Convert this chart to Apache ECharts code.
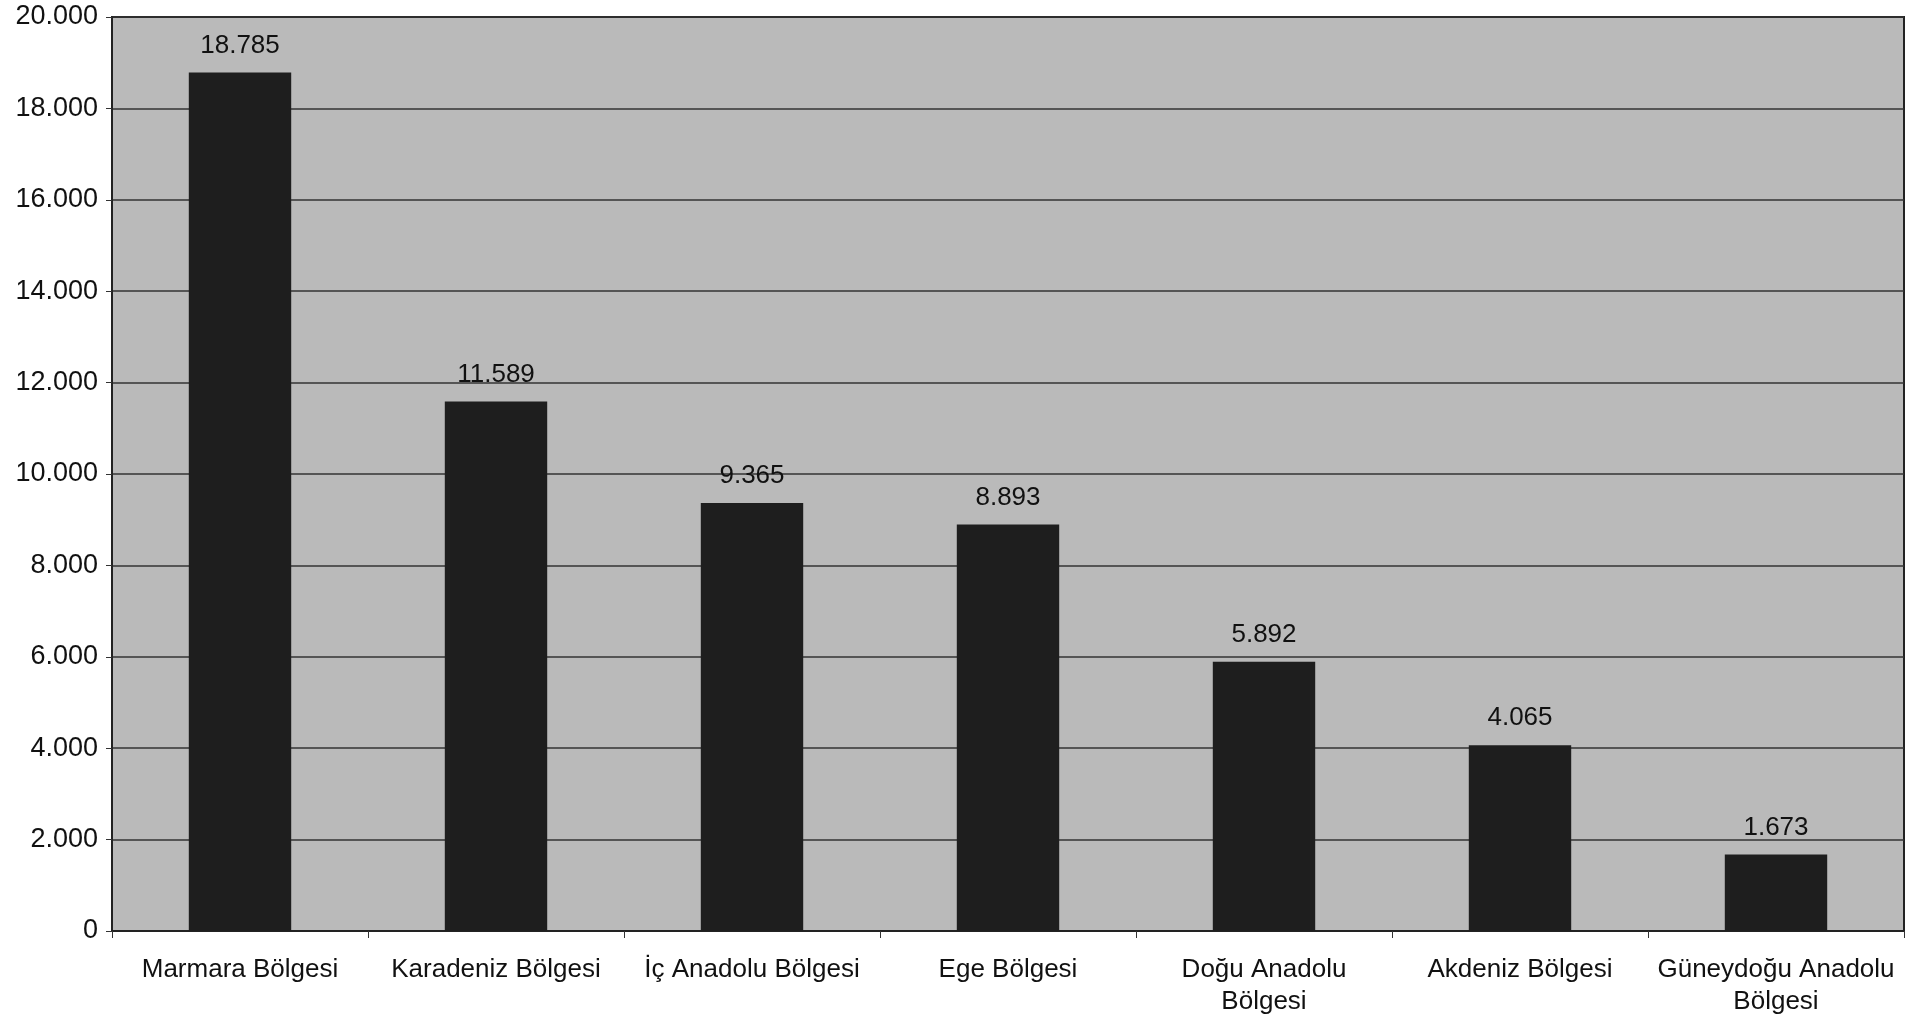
<!DOCTYPE html>
<html>
<head>
<meta charset="utf-8">
<script src="https://cdn.jsdelivr.net/npm/echarts@6/dist/echarts.min.js"></script>
<style>
html,body{margin:0;padding:0;background:#fff;}
#c{width:1928px;height:1018px;}
</style>
</head>
<body>
<div id="c"></div>
<script>
const categories = [
  "Marmara Bölgesi",
  "Karadeniz Bölgesi",
  "İç Anadolu Bölgesi",
  "Ege Bölgesi",
  "Doğu Anadolu\nBölgesi",
  "Akdeniz Bölgesi",
  "Güneydoğu Anadolu\nBölgesi"
];
const values = [18785, 11589, 9365, 8893, 5892, 4065, 1673];
const yMin = 0, yMax = 20000, yStep = 2000;

function trNum(v) {
  return String(Math.round(v)).replace(/\B(?=(\d{3})+(?!\d))/g, ".");
}

const chart = echarts.init(document.getElementById('c'), null, {renderer: 'canvas'});
const font = "'Liberation Sans', Arial, sans-serif";
chart.setOption({
  animation: false,
  backgroundColor: '#ffffff',
  grid: {
    left: 112, right: 24, top: 17, bottom: 85,
    show: true,
    backgroundColor: '#bababa',
    borderColor: '#222',
    borderWidth: 2
  },
  xAxis: {
    type: 'category',
    data: categories,
    axisLine: {show: true, lineStyle: {color: '#222', width: 2}},
    axisTick: {show: true, alignWithLabel: false, length: 7, lineStyle: {color: '#333'}},
    axisLabel: {
      color: '#111', fontFamily: font, fontSize: 26, margin: 23, lineHeight: 32,
      interval: 0
    }
  },
  yAxis: {
    type: 'value',
    min: yMin, max: yMax, interval: yStep,
    axisLine: {show: true, lineStyle: {color: '#222', width: 2}},
    axisTick: {show: true, length: 6, lineStyle: {color: '#333'}},
    splitLine: {show: true, lineStyle: {color: '#333', width: 1.5}},
    axisLabel: {
      color: '#111', fontFamily: font, fontSize: 27, margin: 14,
      formatter: trNum
    }
  },
  series: [{
    type: 'bar',
    data: values,
    barCategoryGap: '60%',
    itemStyle: {color: '#1e1e1e'},
    label: {
      show: true, position: 'top', distance: 14,
      color: '#111', fontFamily: font, fontSize: 26,
      formatter: p => trNum(p.value)
    }
  }]
});
</script>
</body>
</html>
